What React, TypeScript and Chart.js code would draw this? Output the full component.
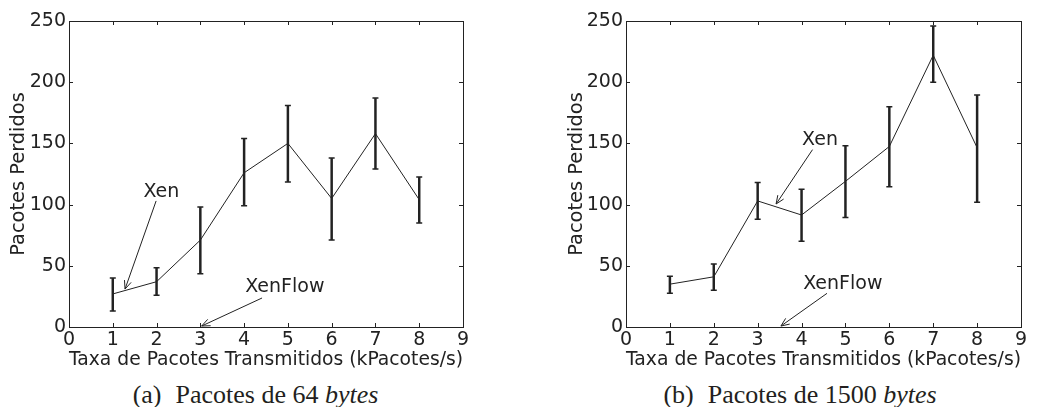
import React, { useEffect, useRef } from "react";
import { Chart, registerables } from "chart.js";
Chart.register(...registerables);

// ---- Data ----
const rates = [1, 2, 3, 4, 5, 6, 7, 8];

const lost64Mean = [27, 37, 71, 126, 150, 105, 158, 104];
const lost64Low = [13, 26, 43.5, 99, 118.5, 71, 129, 85];
const lost64High = [40, 48.5, 98, 154, 181, 138, 187, 122.5];

const lost1500Mean = [35, 41, 103, 91.5, 119, 147.5, 222, 146.5];
const lost1500Low = [27.5, 30, 88, 70, 89.5, 114.5, 200, 102];
const lost1500High = [41.5, 51.5, 118, 112.5, 148, 180, 246, 189.5];

const xTitle = "Taxa de Pacotes Transmitidos (kPacotes/s)";
const yTitle = "Pacotes Perdidos";

type Note = { text: string; tx: number; ty: number; ax0: number; ay0: number; ax1: number; ay1: number };

const notes64: Note[] = [
  { text: "Xen", tx: 2.11, ty: 110, ax0: 1.99, ay0: 103, ax1: 1.28, ay1: 31 },
  { text: "XenFlow", tx: 4.93, ty: 32.7, ax0: 4.41, ay0: 23.7, ax1: 3.03, ay1: 0.8 },
];
const notes1500: Note[] = [
  { text: "Xen", tx: 4.42, ty: 152.8, ax0: 4.25, ay0: 144.9, ax1: 3.42, ay1: 100.5 },
  { text: "XenFlow", tx: 4.94, ty: 35.1, ax0: 4.58, ay0: 27.5, ax1: 3.53, ay1: 0.8 },
];

const INK = "#222222";
const FONT = "DejaVu Sans";

function makePlugin(low: number[], high: number[], notes: Note[]) {
  return {
    id: "decor",
    afterDatasetsDraw(chart: any) {
      const { ctx, chartArea: a, scales } = chart;
      const xs = scales.x;
      const ys = scales.y;
      ctx.save();
      ctx.strokeStyle = INK;
      rates.forEach((r, i) => {
        const px = xs.getPixelForValue(r);
        const pl = ys.getPixelForValue(low[i]);
        const ph = ys.getPixelForValue(high[i]);
        ctx.lineWidth = 2.5;
        ctx.beginPath();
        ctx.moveTo(px, pl);
        ctx.lineTo(px, ph);
        ctx.stroke();
        ctx.lineWidth = 1.5;
        ctx.beginPath();
        ctx.moveTo(px - 3, pl);
        ctx.lineTo(px + 3, pl);
        ctx.moveTo(px - 3, ph);
        ctx.lineTo(px + 3, ph);
        ctx.stroke();
      });
      ctx.lineWidth = 1;
      ctx.strokeRect(a.left + 0.5, a.top + 0.5, a.right - a.left, a.bottom - a.top);
      const tl = 4;
      ctx.beginPath();
      xs.ticks.forEach((t: any) => {
        const p = Math.round(xs.getPixelForValue(t.value)) + 0.5;
        ctx.moveTo(p, a.bottom);
        ctx.lineTo(p, a.bottom - tl);
        ctx.moveTo(p, a.top);
        ctx.lineTo(p, a.top + tl);
      });
      ys.ticks.forEach((t: any) => {
        const p = Math.round(ys.getPixelForValue(t.value)) + 0.5;
        ctx.moveTo(a.left, p);
        ctx.lineTo(a.left + tl, p);
        ctx.moveTo(a.right, p);
        ctx.lineTo(a.right - tl, p);
      });
      ctx.stroke();
      ctx.fillStyle = INK;
      ctx.font = `19px "${FONT}"`;
      ctx.textAlign = "center";
      ctx.textBaseline = "middle";
      notes.forEach((n) => {
        ctx.fillText(n.text, xs.getPixelForValue(n.tx), ys.getPixelForValue(n.ty));
        const x0 = xs.getPixelForValue(n.ax0);
        const y0 = ys.getPixelForValue(n.ay0);
        const x1 = xs.getPixelForValue(n.ax1);
        const y1 = ys.getPixelForValue(n.ay1);
        const ang = Math.atan2(y1 - y0, x1 - x0);
        const hl = 9;
        const spread = 0.4;
        ctx.lineWidth = 1;
        ctx.beginPath();
        ctx.moveTo(x0, y0);
        ctx.lineTo(x1, y1);
        ctx.moveTo(x1 - hl * Math.cos(ang - spread), y1 - hl * Math.sin(ang - spread));
        ctx.lineTo(x1, y1);
        ctx.lineTo(x1 - hl * Math.cos(ang + spread), y1 - hl * Math.sin(ang + spread));
        ctx.stroke();
      });
      ctx.restore();
    },
  };
}

type PanelProps = {
  mean: number[];
  low: number[];
  high: number[];
  notes: Note[];
  width: number;
  height: number;
  areaLeft: number;
  areaRight: number;
  areaTop: number;
  areaBottom: number;
  yTitlePad: number;
};

function Panel(p: PanelProps) {
  const ref = useRef<HTMLCanvasElement>(null);
  useEffect(() => {
    if (!ref.current) return;
    const tickFont = { family: FONT, size: 19 };
    const titleFont = { family: FONT, size: 19.4 };
    const chart = new Chart(ref.current, {
      type: "line",
      data: {
        datasets: [
          {
            data: rates.map((r, i) => ({ x: r, y: p.mean[i] })),
            borderColor: INK,
            borderWidth: 1,
            pointRadius: 0,
            tension: 0,
            fill: false,
          },
        ],
      },
      options: {
        animation: false,
        responsive: false,
        devicePixelRatio: 1,
        events: [],
        layout: { padding: { left: 0, top: p.areaTop, right: p.width - p.areaRight, bottom: 0 } },
        plugins: { legend: { display: false }, tooltip: { enabled: false } },
        scales: {
          x: {
            type: "linear",
            min: 0,
            max: 9,
            ticks: { stepSize: 1, font: tickFont, color: INK, padding: 2, maxRotation: 0 },
            grid: { display: false, drawTicks: false },
            border: { display: false },
            title: { display: true, text: xTitle, font: titleFont, color: INK, padding: { top: 0, bottom: 0 } },
            afterFit: (s: any) => {
              s.height = p.height - p.areaBottom;
            },
          },
          y: {
            type: "linear",
            min: 0,
            max: 250,
            ticks: { stepSize: 50, font: tickFont, color: INK, padding: 3 },
            grid: { display: false, drawTicks: false },
            border: { display: false },
            title: { display: true, text: yTitle, font: titleFont, color: INK, padding: { top: p.yTitlePad, bottom: 0 } },
            afterFit: (s: any) => {
              s.width = p.areaLeft;
            },
          },
        },
      },
      plugins: [makePlugin(p.low, p.high, p.notes)],
    } as any);
    return () => chart.destroy();
  }, []);
  return <canvas ref={ref} width={p.width} height={p.height} style={{ width: p.width, height: p.height, display: "block" }} />;
}

const captionStyle: React.CSSProperties = {
  position: "absolute",
  top: 379,
  transform: "translateX(-50%)",
  whiteSpace: "nowrap",
  fontFamily: '"Liberation Serif", serif',
  fontSize: 26,
  lineHeight: "32px",
  color: "#231f20",
};

export default function App() {
  return (
    <div style={{ position: "fixed", left: 0, top: 0, width: 1037, height: 407, background: "#fff", overflow: "hidden" }}>
      <div style={{ position: "absolute", left: 0, top: 0 }}>
        <Panel mean={lost64Mean} low={lost64Low} high={lost64High} notes={notes64}
          width={518} height={372} areaLeft={69} areaRight={463} areaTop={21} areaBottom={327} yTitlePad={7} />
      </div>
      <div style={{ position: "absolute", left: 518, top: 0 }}>
        <Panel mean={lost1500Mean} low={lost1500Low} high={lost1500High} notes={notes1500}
          width={519} height={372} areaLeft={108} areaRight={503} areaTop={21} areaBottom={327} yTitlePad={47} />
      </div>
      <div style={{ ...captionStyle, left: 255.5 }}>
        (a)<span style={{ marginLeft: 14 }}>Pacotes de 64 </span><i>bytes</i>
      </div>
      <div style={{ ...captionStyle, left: 800 }}>
        (b)<span style={{ marginLeft: 14 }}>Pacotes de 1500 </span><i>bytes</i>
      </div>
    </div>
  );
}
